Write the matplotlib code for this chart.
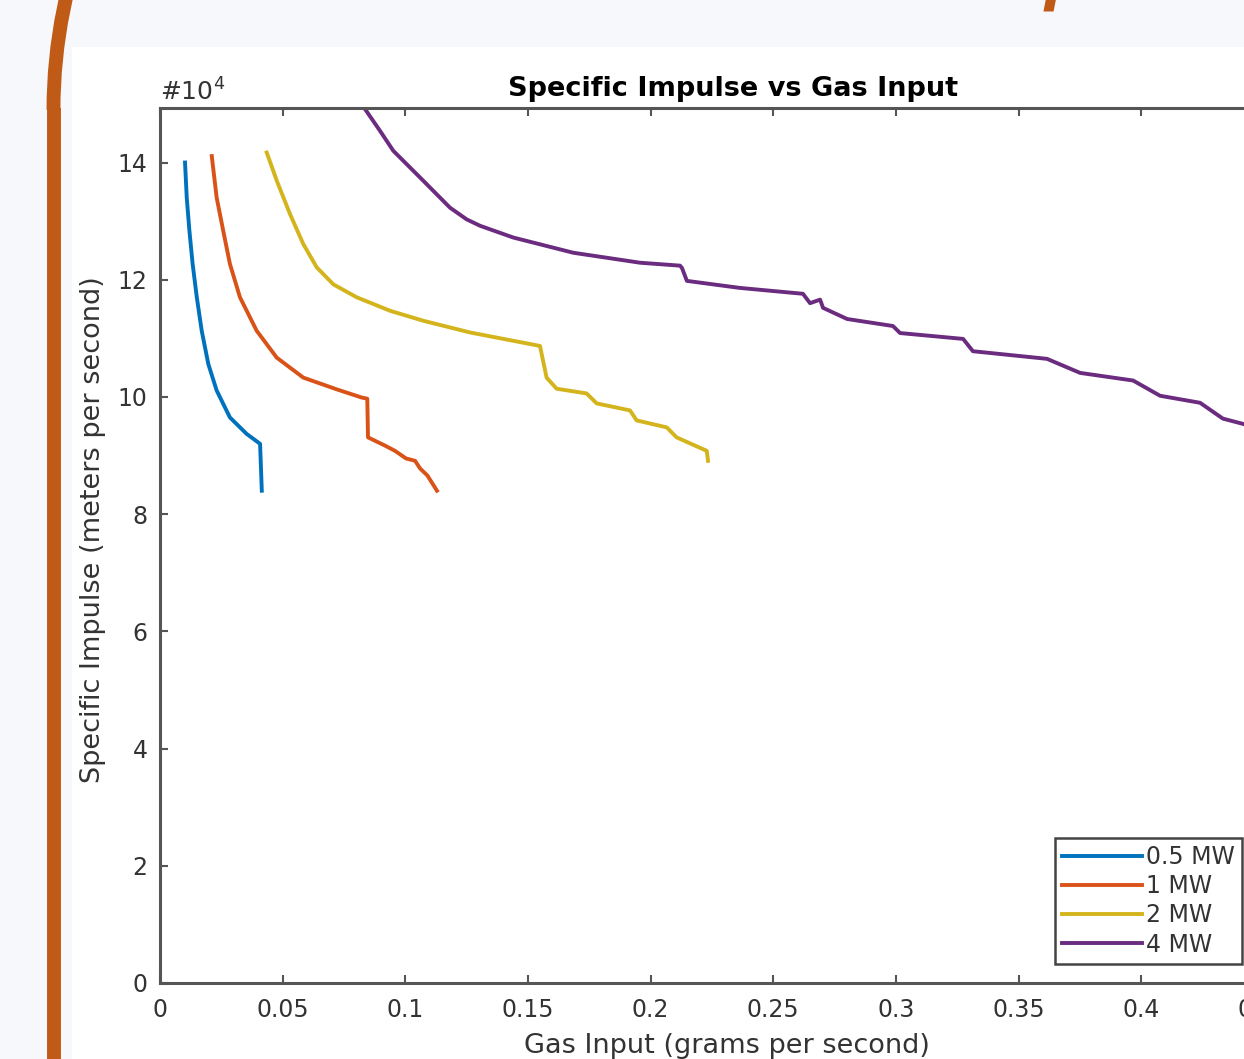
import matplotlib.pyplot as plt
from matplotlib.patches import Rectangle, Arc
from matplotlib.ticker import FuncFormatter, MultipleLocator

# gas input (g/s) and specific impulse (m/s) for each power level
gas_05 = [0.0102, 0.0109, 0.0120, 0.0133, 0.0150, 0.0170, 0.0197, 0.0231, 0.0285,
          0.0353, 0.0408, 0.0415]
isp_05 = [140000, 134000, 128300, 122700, 117000, 111300, 105600, 101100, 96500,
          93700, 92000, 84000]

gas_1 = [0.0211, 0.0231, 0.0258, 0.0285, 0.0326, 0.0394, 0.0476, 0.0584, 0.0720,
         0.0822, 0.0845, 0.0848, 0.0917, 0.0958, 0.1003, 0.1040, 0.1060, 0.1090,
         0.1129]
isp_1 = [141100, 134000, 128300, 122700, 117000, 111300, 106700, 103300, 101300,
         99900, 99700, 93100, 91700, 90800, 89500, 89100, 87800, 86600, 84000]

gas_2 = [0.0435, 0.0476, 0.0530, 0.0584, 0.0639, 0.0707, 0.0802, 0.0938, 0.1073,
         0.1264, 0.1549, 0.1576, 0.1617, 0.1739, 0.1780, 0.1916, 0.1943, 0.2066,
         0.2106, 0.2229, 0.2234]
isp_2 = [141700, 136900, 131200, 126100, 122100, 119200, 117000, 114700, 113000,
         111000, 108700, 103300, 101400, 100600, 98900, 97700, 96000, 94800, 93100,
         90800, 89100]

gas_4 = [0.0780, 0.0836, 0.0897, 0.0951, 0.1073, 0.1182, 0.1250, 0.1305, 0.1440,
         0.1685, 0.1957, 0.2120, 0.2128, 0.2148, 0.2364, 0.2621, 0.2650, 0.2691,
         0.2703, 0.2801, 0.2988, 0.3017, 0.3274, 0.3314, 0.3616, 0.3751, 0.3967,
         0.4077, 0.4240, 0.4333, 0.4415, 0.4492]
isp_4 = [153000, 149100, 145400, 142000, 136900, 132300, 130300, 129200, 127200,
         124600, 122900, 122400, 122000, 119800, 118600, 117600, 116000, 116600,
         115200, 113300, 112100, 110900, 109900, 107800, 106500, 104100, 102800,
         100200, 99000, 96300, 95400, 94200]

labels = ["0.5 MW", "1 MW", "2 MW", "4 MW"]
colors = ["#0072bd", "#d95319", "#d4b41c", "#6b2c80"]

W, H = 1244, 1059
fig = plt.figure(figsize=(W / 100, H / 100), dpi=100)
fig.patch.set_facecolor("#f7f8fb")

# white picture area of the slide
fig.patches.append(Rectangle((72 / W, 0), 1, 1 - 47 / H, transform=fig.transFigure,
                             facecolor="white", edgecolor="none", zorder=-5))

# orange frame of the slide (rounded corner, left side)
orange = "#bf5b17"
R = 510
fig.patches.append(Arc((53.5 + R, H - 110), 2 * R, 2 * R, theta1=90, theta2=180,
                       transform=None, color=orange, lw=10, zorder=1))
fig.add_artist(plt.Line2D([53.5 / W, 53.5 / W], [0, 1 - 108 / H],
                          transform=fig.transFigure, color=orange, lw=10,
                          solid_capstyle="butt"))
fig.text(1062 / W, 1 + 1 / H, "p", color=orange, fontsize=42, family="DejaVu Serif",
         style="italic", weight="bold", ha="center", va="baseline")

xmax = 0.467
ax = fig.add_axes([160 / W, 1 - 983 / H, (xmax * 2453) / W, (983 - 108) / H])
ax.set_zorder(5)
ax.set_facecolor("white")
for g, s, c, lab in zip([gas_05, gas_1, gas_2, gas_4], [isp_05, isp_1, isp_2, isp_4],
                        colors, labels):
    ax.plot(g, s, color=c, lw=2.8, label=lab)

ax.set_xlim(0, xmax)
ax.set_ylim(0, 149300)
ax.xaxis.set_major_locator(MultipleLocator(0.05))
ax.yaxis.set_major_locator(MultipleLocator(20000))
ax.xaxis.set_major_formatter(FuncFormatter(lambda v, p: f"{v:g}"))
ax.yaxis.set_major_formatter(FuncFormatter(lambda v, p: f"{v / 1e4:g}"))

for sp in ax.spines.values():
    sp.set_linewidth(2.2)
    sp.set_color("#555555")
ax.tick_params(direction="in", top=True, right=True, length=6, width=1.5,
               color="#555555", labelsize=17, labelcolor="#333333")
ax.tick_params(axis="x", pad=11)
ax.tick_params(axis="y", pad=9)

ax.set_title("Specific Impulse vs Gas Input", fontsize=19.5, weight="bold", pad=9)
ax.set_xlabel("Gas Input (grams per second)", fontsize=19.5, color="#333333")
ax.set_ylabel("Specific Impulse (meters per second)", fontsize=19.5, color="#333333")
ax.xaxis.set_label_coords((727 - 160) / (xmax * 2453), -(1033 - 983) / 875)
ax.yaxis.set_label_coords(-(160 - 106) / (xmax * 2453), 0.518)

fig.text(160 / W, 1 - 101 / H, r"#10$^{4}$", fontsize=18, color="#333333",
         ha="left", va="baseline")

leg = ax.legend(loc="upper left", bbox_to_anchor=(1055 / W, 1 - 838 / H),
                bbox_transform=fig.transFigure, borderaxespad=0, fontsize=17,
                handlelength=3.4, handletextpad=0.15, labelspacing=0.22,
                fancybox=False, framealpha=1, edgecolor="#444444",
                borderpad=0.3)
leg.get_frame().set_linewidth(1.8)
for t in leg.get_texts():
    t.set_color("#333333")

fig.savefig("out.png", dpi=100)
